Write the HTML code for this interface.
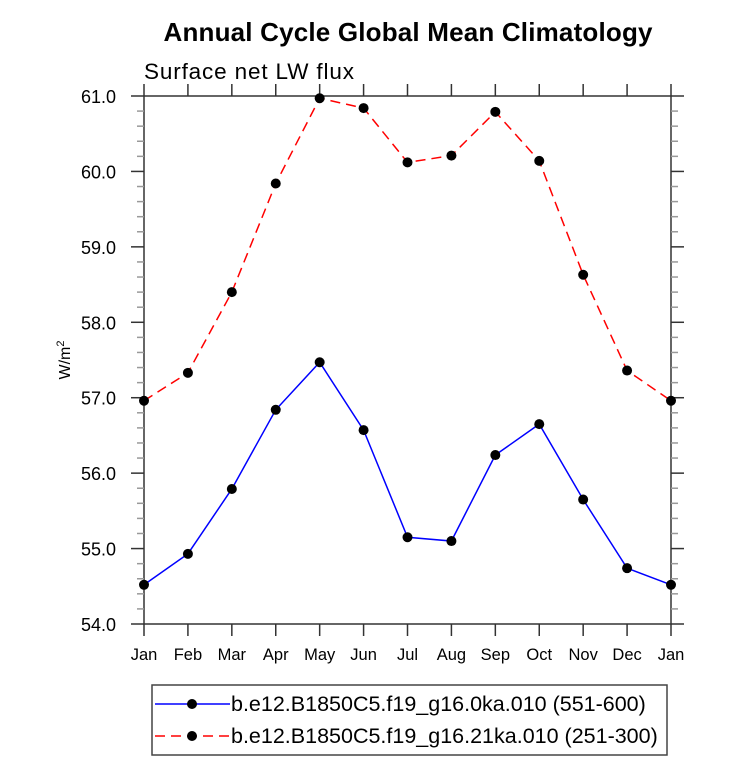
<!DOCTYPE html>
<html><head><meta charset="utf-8"><style>body{margin:0;background:#fff}svg{display:block;font-family:"Liberation Sans",sans-serif}</style></head>
<body>
<svg id="c" width="733" height="761">
<text x="408" y="41" text-anchor="middle" font-size="26" font-weight="bold" textLength="489">Annual Cycle Global Mean Climatology</text>
<text x="144" y="79" font-size="22.5" textLength="210">Surface net LW flux</text>
<text transform="translate(70,360) rotate(-90)" text-anchor="middle" font-size="16">W/m<tspan font-size="11" dy="-6">2</tspan></text>
<g id="axes"></g><g id="series"></g>
<g>
<rect x="152" y="685" width="515" height="70" fill="none" stroke="#444" stroke-width="1.5"/>
<g><line x1="155" y1="704" x2="230" y2="704" stroke="#00f" stroke-width="1.5"/><circle cx="192" cy="704" r="5" fill="#000"/><text x="231" y="711" font-size="21.5">b.e12.B1850C5.f19_g16.0ka.010 (551-600)</text></g>
<g><line x1="155" y1="736" x2="230" y2="736" stroke="#f00" stroke-width="1.5" stroke-dasharray="10,6"/><circle cx="192" cy="736" r="5" fill="#000"/><text x="231" y="743" font-size="21.5">b.e12.B1850C5.f19_g16.21ka.010 (251-300)</text></g>
</g>
</svg>
<script>
const months=["Jan","Feb","Mar","Apr","May","Jun","Jul","Aug","Sep","Oct","Nov","Dec","Jan"];
const blueValues=[54.52,54.93,55.79,56.84,57.47,56.57,55.15,55.10,56.24,56.65,55.65,54.74,54.52];
const redValues=[56.96,57.33,58.40,59.84,60.97,60.84,60.12,60.21,60.79,60.14,58.63,57.36,56.96];
const yTicks=[54,55,56,57,58,59,60,61];
const L=144,R=671,T=96,B=624,ymin=54,ymax=61;
const NS="http://www.w3.org/2000/svg";
const xs=i=>L+(R-L)*i/(months.length-1);
const ys=v=>B-(v-ymin)/(ymax-ymin)*(B-T);
function mk(t,a,p){const e=document.createElementNS(NS,t);for(const k in a)e.setAttribute(k,a[k]);p.appendChild(e);return e;}
const ax=document.getElementById('axes'),se=document.getElementById('series');
const fr=mk('rect',{x:L,y:T,width:R-L,height:B-T,fill:'none',stroke:'#333','stroke-width':1.5},ax);


months.forEach((m,i)=>{const x=xs(i);
mk('line',{x1:x,y1:B,x2:x,y2:B+12,stroke:'#333','stroke-width':1.5},ax);
mk('line',{x1:x,y1:T,x2:x,y2:T-12,stroke:'#333','stroke-width':1.5},ax);
const t=mk('text',{x:x,y:B+36,'text-anchor':'middle','font-size':16.5},ax);t.textContent=m;

});
for(let v=ymin;v<=ymax+1e-6;v+=0.2){const y=ys(v);const maj=Math.abs(v-Math.round(v))<1e-6;const len=maj?13:7;
mk('line',{x1:L,y1:y,x2:L-len,y2:y,stroke:maj?'#333':'#999','stroke-width':1.5},ax);
mk('line',{x1:R,y1:y,x2:R+len,y2:y,stroke:maj?'#333':'#999','stroke-width':1.5},ax);}
yTicks.forEach(v=>{const t=mk('text',{x:L-28,y:ys(v)+7,'text-anchor':'end','font-size':18},ax);t.textContent=v.toFixed(1);

});
function series(vals,col,dash,name){
const p=mk('polyline',{points:vals.map((v,i)=>xs(i)+','+ys(v)).join(' '),fill:'none',stroke:col,'stroke-width':1.5,'stroke-dasharray':dash},se);


vals.forEach((v,i)=>{const c=mk('circle',{cx:xs(i),cy:ys(v),r:5,fill:'#000'},se);

});}
series(blueValues,'#00f','none','blue-series');
series(redValues,'#f00','10,6','red-series');
</script>
</body></html>
